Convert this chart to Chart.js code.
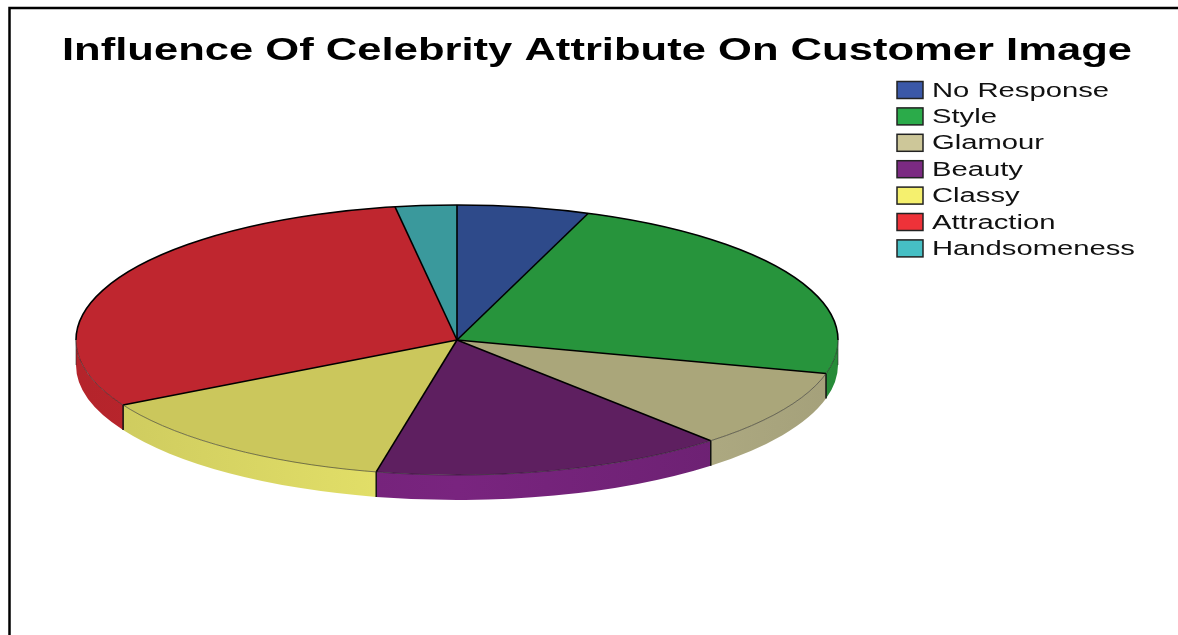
<!DOCTYPE html>
<html>
<head>
<meta charset="utf-8">
<script src="https://cdn.jsdelivr.net/npm/chart.js@4.4.1/dist/chart.umd.min.js"></script>
<style>
  html, body { margin: 0; padding: 0; background: #fff; }
  #wrap { position: relative; width: 1178px; height: 635px; }
</style>
</head>
<body>
<div id="wrap"><canvas id="pieChart"></canvas></div>
<script>
const chartTitle = "Influence Of Celebrity Attribute On Customer Image";
const labels = ["No Response", "Style", "Glamour", "Beauty", "Classy", "Attraction", "Handsomeness"];
const percents = [5.6, 23.4, 9.4, 15.0, 13.6, 30.4, 2.6];

const topColors = ["#2e4a8a", "#27943c", "#aaa67a", "#5e1f60", "#cbc75c", "#bf262f", "#3a999c"];
const sideColors = ["#36529a", "#2a9a3e", "#b6b288", "#74237a", "#dedb66", "#c4272f", "#42a9ad"];
const legendColors = ["#3b58a8", "#2bab4a", "#cdc799", "#7b2a82", "#f5f06e", "#ee3239", "#46bfc4"];

// where the flattened pie sits on the page
const CX = 457, CY = 340, RX = 381, RY = 135, DEPTH = 25;

function shade(hex, f) {
  const n = parseInt(hex.slice(1), 16);
  const c = [(n >> 16) & 255, (n >> 8) & 255, n & 255].map((v) => Math.max(0, Math.min(255, Math.round(v * f))));
  return `rgb(${c[0]},${c[1]},${c[2]})`;
}

function ellipsePt(a, dy) {
  return [CX + RX * Math.cos(a), CY + dy + RY * Math.sin(a)];
}

const tiltPlugin = {
  id: "tilt",
  beforeDatasetsDraw(chart) {
    const ctx = chart.ctx;
    const arcs = chart.getDatasetMeta(0).data;

    // side wall, only the front half shows
    arcs.forEach((arc, i) => {
      const a = Math.max(arc.startAngle, 0);
      const b = Math.min(arc.endAngle, Math.PI);
      if (a >= b) return;
      const g = ctx.createLinearGradient(CX - RX, 0, CX + RX, 0);
      g.addColorStop(0, shade(sideColors[i], 0.92));
      g.addColorStop(0.5, shade(sideColors[i], 1.04));
      g.addColorStop(1, shade(sideColors[i], 0.9));
      ctx.beginPath();
      ctx.ellipse(CX, CY, RX, RY, 0, a, b);
      ctx.ellipse(CX, CY + DEPTH, RX, RY, 0, b, a, true);
      ctx.closePath();
      ctx.fillStyle = g;
      ctx.fill();
    });

    // slice edges on the side wall
    ctx.strokeStyle = "#111";
    ctx.lineWidth = 1.5;
    arcs.forEach((arc) => {
      const s = arc.startAngle;
      if (s > 0 && s < Math.PI) {
        const [x, y] = ellipsePt(s, 0);
        ctx.beginPath();
        ctx.moveTo(x, y);
        ctx.lineTo(x, y + DEPTH);
        ctx.stroke();
      }
    });
    ctx.strokeStyle = "rgba(40,40,40,0.6)";
    ctx.lineWidth = 1;
    [0, Math.PI].forEach((s) => {
      const [x, y] = ellipsePt(s, 0);
      ctx.beginPath();
      ctx.moveTo(x, y);
      ctx.lineTo(x, y + DEPTH);
      ctx.stroke();
    });

    // squash the round pie into the ellipse
    const { x, y, outerRadius } = arcs[0];
    ctx.save();
    ctx.translate(CX, CY);
    ctx.scale(RX / outerRadius, RY / outerRadius);
    ctx.translate(-x, -y);
  },
  afterDatasetsDraw(chart) {
    const ctx = chart.ctx;
    ctx.restore();
    const arcs = chart.getDatasetMeta(0).data;

    ctx.strokeStyle = "#000";
    ctx.lineWidth = 1.6;
    arcs.forEach((arc) => {
      const [x, y] = ellipsePt(arc.startAngle, 0);
      ctx.beginPath();
      ctx.moveTo(CX, CY);
      ctx.lineTo(x, y);
      ctx.stroke();
    });
    ctx.beginPath();
    ctx.ellipse(CX, CY, RX, RY, 0, Math.PI, Math.PI * 2);
    ctx.stroke();

    ctx.strokeStyle = "rgba(30,30,30,0.55)";
    ctx.lineWidth = 1;
    ctx.beginPath();
    ctx.ellipse(CX, CY, RX, RY, 0, 0, Math.PI);
    ctx.stroke();
  },
};

const framePlugin = {
  id: "frame",
  afterDraw(chart) {
    const ctx = chart.ctx;
    ctx.save();

    // border
    ctx.strokeStyle = "#000";
    ctx.lineWidth = 2.5;
    ctx.beginPath();
    ctx.moveTo(1178, 8);
    ctx.lineTo(9.5, 8);
    ctx.lineTo(9.5, 635);
    ctx.stroke();

    // title, stretched wide like the original
    ctx.font = "bold 32px 'Liberation Sans', Arial, sans-serif";
    ctx.fillStyle = "#000";
    ctx.textBaseline = "alphabetic";
    const tw = ctx.measureText(chartTitle).width;
    const tsx = 1070 / tw;
    ctx.save();
    ctx.translate(62, 60);
    ctx.scale(tsx, 1);
    ctx.fillText(chartTitle, 0, 0);
    ctx.restore();

    // legend
    ctx.font = "20px 'Liberation Sans', Arial, sans-serif";
    ctx.textBaseline = "middle";
    const lsx = 177 / ctx.measureText("No Response").width;
    labels.forEach((label, i) => {
      const yc = 90 + i * 26.4;
      ctx.fillStyle = legendColors[i];
      ctx.fillRect(897, yc - 8.5, 26, 17);
      ctx.strokeStyle = "#222";
      ctx.lineWidth = 1.5;
      ctx.strokeRect(897, yc - 8.5, 26, 17);
      ctx.fillStyle = "#111";
      ctx.save();
      ctx.translate(932, yc + 1);
      ctx.scale(lsx, 1);
      ctx.fillText(label, 0, 0);
      ctx.restore();
    });

    ctx.restore();
  },
};

const pieChart = new Chart(document.getElementById("pieChart"), {
  type: "pie",
  data: {
    labels: labels,
    datasets: [
      {
        data: percents,
        backgroundColor: topColors,
        borderWidth: 0,
        clip: false,
      },
    ],
  },
  options: {
    responsive: true,
    maintainAspectRatio: false,
    animation: false,
    events: [],
    plugins: {
      legend: { display: false },
      title: { display: false },
      tooltip: { enabled: false },
    },
  },
  plugins: [tiltPlugin, framePlugin],
});
</script>
</body>
</html>
